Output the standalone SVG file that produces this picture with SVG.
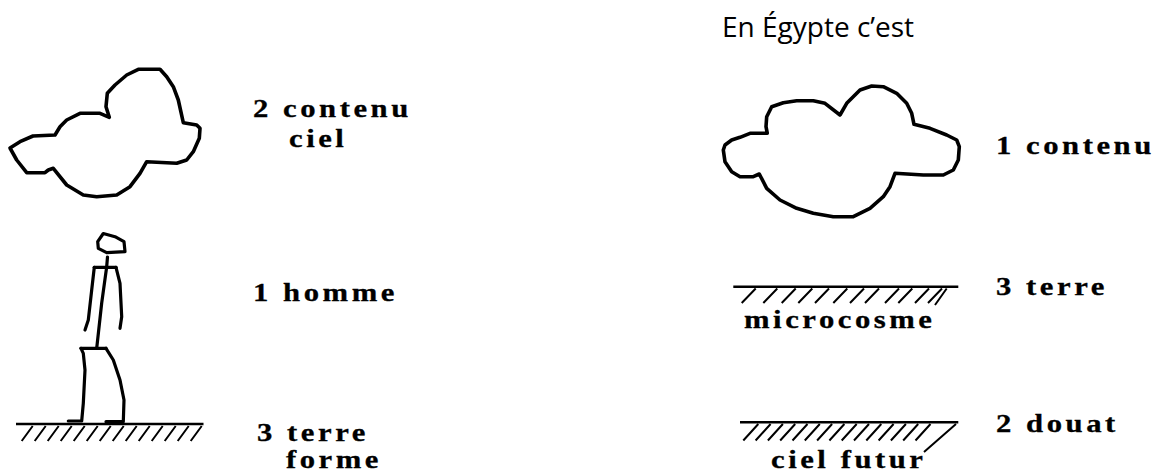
<svg xmlns="http://www.w3.org/2000/svg" width="1158" height="473" viewBox="0 0 1158 473">
  <style>
    .ink { fill: none; stroke: #000; stroke-width: 3.6; stroke-linejoin: round; stroke-linecap: round; }
    .body { fill: none; stroke: #000; stroke-width: 3.2; stroke-linejoin: round; stroke-linecap: round; }
    .ground { stroke: #000; stroke-width: 2.6; fill: none; }
    .hatch { stroke: #000; stroke-width: 2; fill: none; stroke-linecap: butt; }
    .label { font-family: "Liberation Serif", "Times New Roman", serif; font-weight: bold; font-size: 26px; letter-spacing: 3px; fill: #000; stroke: #000; stroke-width: 0.3; }
    .title { font-family: "Open Sans", "Noto Sans", sans-serif; font-size: 28px; fill: #000; }
  </style>

  <!-- left column: sky cloud -->
  <g id="cloud-left">
    <path class="ink" d="M10,148 L20,141.7 L33,136 L55,135 L60,126.7 L66.7,120 L80,113.3 L100,113.3 L109.3,117.3 L106,106.7 L107.3,93.3 L115,85 L126.7,75 L138.3,69.3 L160,69.3 L166.7,76.7 L173.3,86.7 L178.3,100 L183.3,122.7 L196.7,125 L200,128.3 L199.3,138.3 L193.3,151.7 L186.7,160 L176.7,163.3 L146.7,161.7 L140,173.3 L130,186.7 L116.7,195 L96.7,196.7 L83.3,195 L66.7,185 L53.3,168.3 L48.3,170 L45,172.7 L26.7,172.7 L16.7,160 Z"/>
  </g>

  <!-- left column: standing man -->
  <g id="figure">
    <path class="body" d="M103.3,233.5 L115,236.7 L124,241.7 L125,251.7 L106.7,252.7 L98.3,248.3 L97.7,241.7 Z"/>
    <path class="body" d="M107.5,257 L106.7,266.7 L101.7,303 L96.7,348.3"/>
    <path class="body" d="M94.3,267.3 L116,267.3"/>
    <path class="body" d="M94.3,267.3 L91.7,290 L88.3,320 L85,330"/>
    <path class="body" d="M116,267.3 L120,283.3 L121.7,316.7 L120,328.3"/>
    <path class="body" d="M81,348.3 L106,348.3"/>
    <path class="body" d="M81,348.3 L83.3,353.3 L85,370 L83.3,403.3 L81.7,421 L68.3,421"/>
    <path class="body" d="M106,348.3 L113.3,360 L120,380 L124,400 L123.3,421.7 L106,421.7"/>
  </g>

  <!-- left column: hatched ground -->
  <g id="ground-left">
    <line class="ground" x1="16" y1="424" x2="203.5" y2="424"/>
    <path class="hatch" d="M21.7,441 L32.7,426 M34.7,441 L45.7,426 M47.7,441 L58.7,426 M60.7,441 L71.7,426 M73.7,441 L84.7,426 M86.7,441 L97.7,426 M99.7,441 L110.7,426 M112.7,441 L123.7,426 M125.7,441 L136.7,426 M138.7,441 L149.7,426 M151.7,441 L162.7,426 M164.7,441 L175.7,426 M177.7,441 L188.7,426 M190.7,441 L201.7,426"/>
  </g>

  <!-- left column labels (wide bold serif: scaled horizontally) -->
  <g id="labels-left">
    <text class="label" transform="translate(253,117) scale(1.18,1)">2 contenu</text>
    <text class="label" transform="translate(289,147) scale(1.18,1)">ciel</text>
    <text class="label" transform="translate(253,300.5) scale(1.18,1)">1 homme</text>
    <text class="label" transform="translate(257,440.5) scale(1.18,1)">3 terre</text>
    <text class="label" transform="translate(286,467.5) scale(1.18,1)">forme</text>
  </g>

  <!-- right column heading -->
  <g id="heading">
    <text class="title" x="722" y="37">En Égypte c’est</text>
  </g>

  <!-- right column: cloud -->
  <g id="cloud-right">
    <path class="ink" d="M723.3,150 L725,145 L731.7,140 L740,137.3 L750,133.3 L767.3,133.3 L766,126.7 L766.7,116.7 L771.7,106.7 L783.3,102.7 L796.7,100.7 L813.3,100.7 L825,103.3 L840,115 L846.7,103.3 L860,90 L871.7,86 L883.3,86.7 L896.7,93.3 L906.7,103.3 L911.7,113.3 L914,124.3 L930,128.3 L946.7,135 L956.7,140 L959.3,146.7 L958.3,160 L953.3,170 L943.3,175 L923.3,175 L895,173.3 L890,186.7 L883.3,196.7 L870,208.3 L853.3,216.7 L833.3,216.7 L813.3,213.3 L796.7,208.3 L780,200 L766.7,188.3 L759.3,174 L753.3,176.7 L740,176.7 L731.7,171.7 L725,161.7 Z"/>
  </g>

  <!-- right column: earth ground (microcosme) -->
  <g id="ground-earth">
    <line class="ground" x1="733.3" y1="286.7" x2="958.3" y2="286.7"/>
    <path class="hatch" d="M741.7,303 L755.7,288.5 M763.3,303 L777.3,288.5 M781.7,303 L795.7,288.5 M798.3,303 L812.3,288.5 M815,303 L829,288.5 M833.3,303 L847.3,288.5 M850,303 L864,288.5 M865,303 L879,288.5 M885,303 L899,288.5 M898.3,303 L912.3,288.5 M915,303 L929,288.5 M928,303 L942,288.5 M935,305 L946.7,288.5"/>
    <text class="label" transform="translate(744,328) scale(1.18,1)" letter-spacing="2.5">microcosme</text>
  </g>

  <!-- right column: douat ground (ciel futur) -->
  <g id="ground-douat">
    <line class="ground" x1="740" y1="422.3" x2="958.3" y2="422.3"/>
    <path class="hatch" d="M743.3,440.5 L758.3,424 M755.6,440.5 L770.6,424 M767.9,440.5 L782.9,424 M780.2,440.5 L795.2,424 M792.5,440.5 L807.5,424 M804.8,440.5 L819.8,424 M817.1,440.5 L832.1,424 M829.4,440.5 L844.4,424 M841.7,440.5 L856.7,424 M854,440.5 L869,424 M866.3,440.5 L881.3,424 M878.6,440.5 L893.6,424 M890.9,440.5 L905.9,424 M903.2,440.5 L918.2,424 M915.5,440.5 L930.5,424 M924,452 L956,424"/>
    <text class="label" transform="translate(771,467.5) scale(1.18,1)" letter-spacing="2">ciel futur</text>
  </g>

  <!-- right column labels -->
  <g id="labels-right">
    <text class="label" transform="translate(996,154) scale(1.18,1)">1 contenu</text>
    <text class="label" transform="translate(996,295) scale(1.18,1)">3 terre</text>
    <text class="label" transform="translate(996,432) scale(1.18,1)">2 douat</text>
  </g>
</svg>
